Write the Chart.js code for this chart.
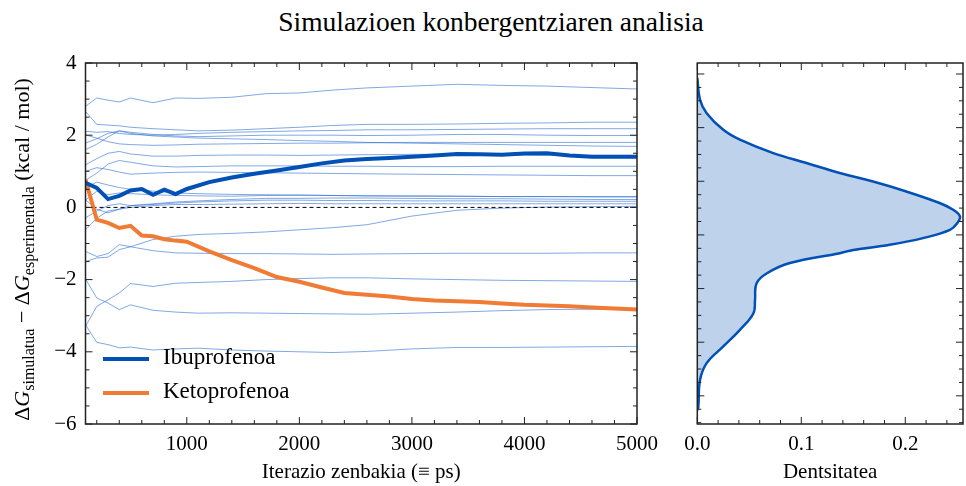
<!DOCTYPE html>
<html>
<head>
<meta charset="utf-8">
<script src="https://cdn.jsdelivr.net/npm/chart.js@4.4.0/dist/chart.umd.min.js"></script>
<style>
  body { margin: 0; background: #fff; }
  #wrap { position: relative; width: 966px; height: 486px; font-family: "Liberation Serif", serif; color: #000; }
  #title { position: absolute; left: 491px; top: 6px; transform: translateX(-50%); font-size: 27.5px; white-space: nowrap; }
  #convChart { position: absolute; left: 0; top: 0; }
  #densChart { position: absolute; left: 666px; top: 0; }
  .leg { position: absolute; left: 103px; font-size: 23px; white-space: nowrap; }
  .leg span.sw { display: inline-block; width: 46px; height: 4px; vertical-align: middle; margin-right: 14px; }
</style>
</head>
<body>
<div id="wrap">
  <div id="title">Simulazioen konbergentziaren analisia</div>
  <canvas id="convChart" width="666" height="486"></canvas>
  <canvas id="densChart" width="300" height="486"></canvas>
  <div class="leg" style="top:344px"><span class="sw" style="background:#0050b5"></span>Ibuprofenoa</div>
  <div class="leg" style="top:378px"><span class="sw" style="background:#f07b35"></span>Ketoprofenoa</div>
</div>
<script>
// iterations (ps)
const thickIters = [100, 200, 300, 400, 500, 600, 700, 800, 900, 1000,
  1200, 1400, 1600, 1800, 2000, 2200, 2400, 2600, 2800, 3000,
  3200, 3400, 3600, 3800, 4000, 4200, 4400, 4600, 4800, 5000];
const thinIters = [100, 200, 300, 400, 500, 700, 900, 1100, 1400, 1700,
  2000, 2300, 2600, 3000, 3400, 3800, 4200, 4600, 5000];
const xTickValues = [1000, 2000, 3000, 4000, 5000];

const ibuprofen = [0.68, 0.54, 0.23, 0.32, 0.47, 0.51, 0.35, 0.49, 0.37, 0.51,
  0.70, 0.83, 0.93, 1.02, 1.12, 1.22, 1.30, 1.34, 1.37, 1.40,
  1.44, 1.48, 1.47, 1.46, 1.49, 1.50, 1.44, 1.40, 1.40, 1.40];
const ketoprofen = [0.77, -0.34, -0.43, -0.57, -0.51, -0.78, -0.80, -0.88, -0.92, -0.95,
  -1.22, -1.46, -1.68, -1.93, -2.06, -2.22, -2.37, -2.42, -2.47, -2.54,
  -2.58, -2.60, -2.62, -2.66, -2.70, -2.72, -2.74, -2.77, -2.80, -2.83];

// other ligands (thin lines)
const others = [
  [2.80, 3.03, 2.97, 2.92, 3.03, 2.90, 3.03, 3.02, 3.05, 3.15, 3.17, 3.25, 3.31, 3.36, 3.41, 3.38, 3.36, 3.32, 3.28],
  [2.66, 2.30, 2.28, 2.26, 2.22, 2.18, 2.15, 2.12, 2.14, 2.18, 2.22, 2.27, 2.30, 2.30, 2.31, 2.33, 2.34, 2.36, 2.36],
  [2.11, 2.08, 2.10, 2.05, 2.02, 2.00, 2.02, 2.05, 2.08, 2.10, 2.12, 2.13, 2.15, 2.15, 2.16, 2.17, 2.18, 2.18, 2.18],
  [1.78, 1.90, 2.05, 2.12, 2.08, 2.02, 1.98, 1.96, 1.98, 2.00, 2.00, 2.00, 1.99, 2.00, 2.02, 2.02, 2.00, 1.99, 1.99],
  [1.60, 1.75, 1.95, 2.12, 2.05, 1.98, 1.95, 1.92, 1.90, 1.88, 1.85, 1.83, 1.80, 1.78, 1.76, 1.74, 1.72, 1.70, 1.69],
  [2.01, 1.92, 1.82, 1.76, 1.74, 1.72, 1.73, 1.75, 1.76, 1.77, 1.78, 1.78, 1.79, 1.80, 1.80, 1.80, 1.80, 1.80, 1.80],
  [1.18, 1.35, 1.50, 1.55, 1.48, 1.42, 1.42, 1.44, 1.45, 1.45, 1.44, 1.45, 1.46, 1.47, 1.47, 1.46, 1.45, 1.44, 1.44],
  [0.75, 0.95, 1.20, 1.30, 1.25, 1.15, 1.12, 1.13, 1.15, 1.15, 1.15, 1.14, 1.14, 1.13, 1.13, 1.14, 1.14, 1.14, 1.14],
  [1.00, 1.10, 1.05, 0.98, 0.92, 0.95, 0.97, 0.98, 0.97, 0.96, 0.95, 0.94, 0.93, 0.92, 0.91, 0.90, 0.89, 0.88, 0.88],
  [0.55, 0.70, 0.62, 0.55, 0.50, 0.45, 0.40, 0.38, 0.36, 0.35, 0.34, 0.33, 0.32, 0.32, 0.31, 0.30, 0.30, 0.29, 0.29],
  [0.20, 0.45, 0.35, 0.40, 0.38, 0.35, 0.33, 0.32, 0.31, 0.33, 0.34, 0.33, 0.32, 0.31, 0.31, 0.30, 0.30, 0.30, 0.30],
  [-0.29, -0.10, 0.05, 0.10, 0.05, 0.08, 0.12, 0.15, 0.18, 0.20, 0.20, 0.19, 0.19, 0.18, 0.18, 0.18, 0.17, 0.17, 0.17],
  [-0.62, -0.30, -0.10, -0.05, 0.00, 0.05, 0.08, 0.08, 0.09, 0.10, 0.11, 0.10, 0.10, 0.10, 0.10, 0.10, 0.10, 0.10, 0.10],
  [-1.22, -1.36, -1.28, -1.03, -1.09, -0.89, -0.80, -0.75, -0.72, -0.68, -0.62, -0.56, -0.48, -0.24, -0.08, -0.02, 0.01, 0.02, 0.03],
  [0.21, -0.05, -0.15, -0.05, 0.05, 0.10, 0.15, 0.18, 0.22, 0.25, 0.25, 0.26, 0.26, 0.25, 0.24, 0.24, 0.23, 0.22, 0.22],
  [-1.50, -1.40, -1.38, -1.17, -1.09, -1.20, -1.26, -1.27, -1.28, -1.28, -1.29, -1.30, -1.29, -1.28, -1.27, -1.27, -1.27, -1.26, -1.26],
  [-3.30, -2.74, -2.56, -2.37, -2.11, -2.19, -2.10, -2.08, -2.05, -2.00, -1.97, -1.95, -1.95, -1.98, -2.00, -2.02, -2.03, -2.04, -2.05],
  [-1.98, -2.51, -2.65, -2.83, -2.70, -2.85, -2.90, -2.93, -2.92, -2.93, -2.94, -2.95, -2.96, -2.93, -2.90, -2.86, -2.83, -2.82, -2.81],
  [-3.25, -3.74, -3.80, -3.89, -3.87, -3.95, -3.92, -3.90, -3.95, -3.98, -4.00, -4.02, -3.99, -3.92, -3.88, -3.88, -3.87, -3.86, -3.85]
];

// density of the deviations (right panel)
const densityLevels = [5.85, 5.04, 4.54, 3.92, 3.55, 3.05, 2.68, 2.31, 1.99, 1.62, 1.19, 0.94, 0.69, 0.44, 0.19,
  -0.12, -0.37, -0.56, -0.68, -1.05, -1.43, -1.80, -2.42, -2.92, -3.54, -4.16, -4.78, -5.41, -6.40, -6.53];
const densityValues = [0, 0.0026, 0.009, 0.025, 0.041, 0.073, 0.105, 0.137, 0.169, 0.201, 0.233, 0.246, 0.2526, 0.250, 0.243,
  0.217, 0.185, 0.150, 0.137, 0.089, 0.067, 0.057, 0.0555, 0.054, 0.041, 0.025, 0.009, 0.0026, 0.001, 0];
const densTickValues = [0, 0.1, 0.2];

const BLUE = '#0050b5';
const ORANGE = '#f07b35';
const FONT = 'Liberation Serif';
Chart.defaults.font.family = FONT;
Chart.defaults.color = '#000';

const zip = (xs, ys) => xs.map((x, i) => ({x: x, y: ys[i]}));
const minus = v => (v < 0 ? '\u2212' + Math.abs(v) : String(v));

// inward ticks on all four sides + frame
const frameTicks = {
  id: 'frameTicks',
  afterDatasetsDraw(chart, args, o) {
    const {ctx, chartArea: a} = chart;
    const xs = chart.scales.x, ys = chart.scales.y;
    ctx.save();
    ctx.strokeStyle = '#222';
    ctx.lineWidth = 1;
    const each = (scale, minor, major, fn) => {
      const i0 = Math.ceil(scale.min / minor - 1e-9), i1 = Math.floor(scale.max / minor + 1e-9);
      for (let i = i0; i <= i1; i++) {
        const v = i * minor;
        const r = v / major;
        fn(scale.getPixelForValue(v), Math.abs(r - Math.round(r)) < 1e-6 ? 7 : 4);
      }
    };
    ctx.beginPath();
    each(xs, o.xMinor, o.xMajor, (p, L) => {
      ctx.moveTo(p, a.bottom); ctx.lineTo(p, a.bottom - L);
      ctx.moveTo(p, a.top); ctx.lineTo(p, a.top + L);
    });
    each(ys, o.yMinor, o.yMajor, (p, L) => {
      ctx.moveTo(a.left, p); ctx.lineTo(a.left + L, p);
      ctx.moveTo(a.right, p); ctx.lineTo(a.right - L, p);
    });
    ctx.stroke();
    ctx.lineWidth = 1.5;
    ctx.strokeRect(a.left, a.top, a.right - a.left, a.bottom - a.top);
    ctx.restore();
  }
};

// rotated y title with subscripts
const yTitle = {
  id: 'yTitle',
  afterDraw(chart) {
    const ctx = chart.ctx, a = chart.chartArea;
    const parts = [
      ['\u0394', '22px', 0, ''], ['G', '22px', 0, 'italic '], ['simulatua', '16px', 5, ''],
      [' \u2212 \u0394', '22px', 0, ''], ['G', '22px', 0, 'italic '], ['esperimentala', '16px', 5, ''],
      [' (kcal / mol)', '22px', 0, '']
    ];
    ctx.save();
    let total = 0;
    parts.forEach(p => { ctx.font = p[3] + p[1] + ' ' + FONT; total += ctx.measureText(p[0]).width; });
    ctx.translate(22, (a.top + a.bottom) / 2 + 6);
    ctx.rotate(-Math.PI / 2);
    ctx.textBaseline = 'alphabetic';
    ctx.fillStyle = '#000';
    let x = -total / 2;
    parts.forEach(p => {
      ctx.font = p[3] + p[1] + ' ' + FONT;
      ctx.fillText(p[0], x, 7 + p[2]);
      x += ctx.measureText(p[0]).width;
    });
    ctx.restore();
  }
};

const datasets = [
  {label: 'Ibuprofenoa', data: zip(thickIters, ibuprofen), borderColor: BLUE, borderWidth: 4},
  {label: 'Ketoprofenoa', data: zip(thickIters, ketoprofen), borderColor: ORANGE, borderWidth: 4},
  {label: 'zero', data: zip([thickIters[0], thickIters[thickIters.length - 1]], [0, 0]),
    borderColor: '#000', borderWidth: 1, borderDash: [4, 3]}
];
others.forEach((s, i) => datasets.push({
  label: 'L' + i, data: zip(thinIters, s), borderColor: 'rgba(45,110,210,0.6)', borderWidth: 1
}));

new Chart(document.getElementById('convChart'), {
  type: 'line',
  data: {datasets: datasets},
  options: {
    responsive: false, animation: false, devicePixelRatio: 1,
    layout: {padding: {top: 63, right: 26, left: 0, bottom: 0}},
    elements: {point: {radius: 0}, line: {tension: 0}},
    plugins: {
      legend: {display: false}, tooltip: {enabled: false},
      frameTicks: {xMinor: 200, xMajor: 1000, yMinor: 0.5, yMajor: 2}
    },
    scales: {
      x: {
        type: 'linear', min: 100, max: 5000,
        grid: {display: false, drawTicks: false}, border: {display: false},
        ticks: {maxRotation: 0, padding: 8, font: {size: 21}, callback: v => String(v)},
        afterBuildTicks: s => { s.ticks = xTickValues.map(v => ({value: v})); },
        title: {display: true, text: 'Iterazio zenbakia (\u2261 ps)', font: {size: 21}, padding: {top: 2, bottom: 1}},
        afterFit: s => { s.height = 62; }
      },
      y: {
        min: -6, max: 4,
        grid: {display: false, drawTicks: false}, border: {display: false},
        ticks: {stepSize: 2, padding: 9, font: {size: 21}, callback: v => minus(v)},
        afterFit: s => { s.width = 85.5; }
      }
    }
  },
  plugins: [frameTicks, yTitle]
});

new Chart(document.getElementById('densChart'), {
  type: 'scatter',
  data: {datasets: [{
    data: zip(densityValues, densityLevels),
    showLine: true, borderColor: BLUE, borderWidth: 2.5,
    backgroundColor: 'rgba(190,210,236,1)', fill: 'shape', tension: 0.4, pointRadius: 0
  }]},
  options: {
    responsive: false, animation: false, devicePixelRatio: 1,
    layout: {padding: {top: 63, right: 3, left: 0, bottom: 0}},
    plugins: {
      legend: {display: false}, tooltip: {enabled: false},
      frameTicks: {xMinor: 0.02, xMajor: 0.1, yMinor: 0.5, yMajor: 2}
    },
    scales: {
      x: {
        type: 'linear', min: 0, max: 0.2555,
        grid: {display: false, drawTicks: false}, border: {display: false},
        ticks: {maxRotation: 0, padding: 8, font: {size: 21}, callback: v => v.toFixed(1)},
        afterBuildTicks: s => { s.ticks = densTickValues.map(v => ({value: v})); },
        title: {display: true, text: 'Dentsitatea', font: {size: 21}, padding: {top: 2, bottom: 1}},
        afterFit: s => { s.height = 62; }
      },
      y: {
        type: 'linear', min: -7.05, max: 6.41,
        grid: {display: false, drawTicks: false}, border: {display: false},
        ticks: {display: false},
        afterFit: s => { s.width = 31.3; }
      }
    }
  },
  plugins: [frameTicks]
});
</script>
</body>
</html>
